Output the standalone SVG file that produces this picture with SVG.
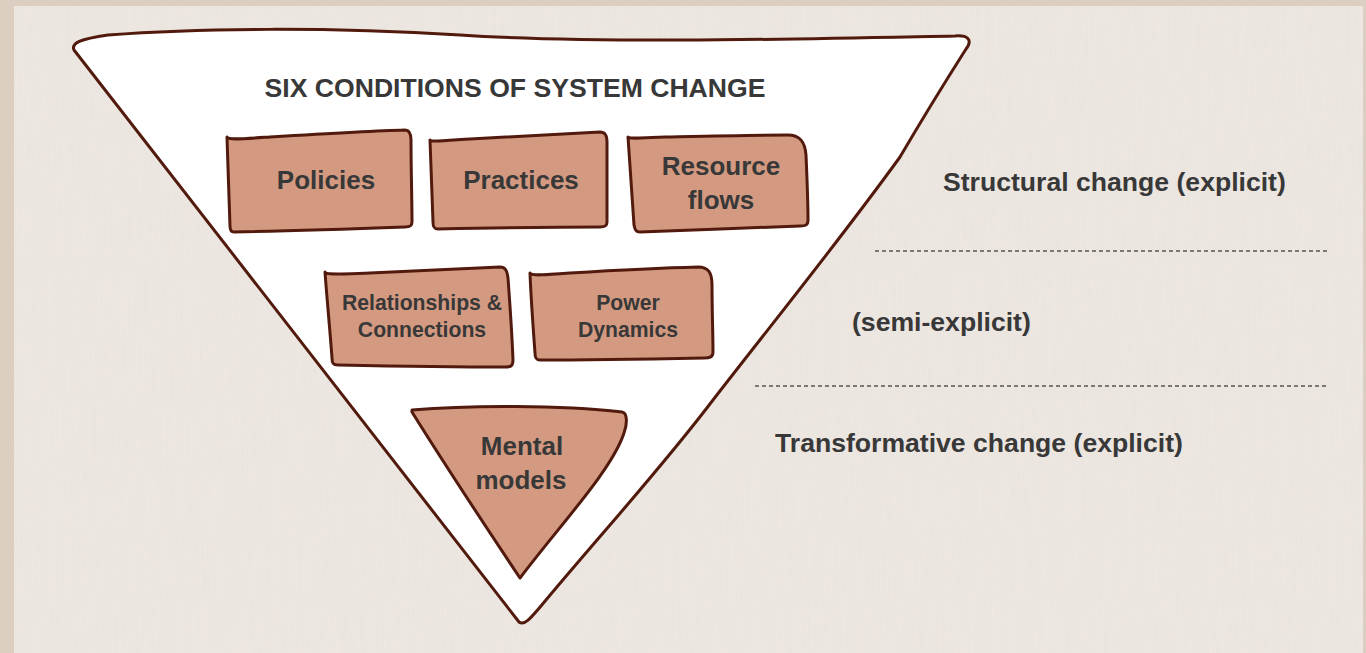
<svg xmlns="http://www.w3.org/2000/svg" width="1366" height="653" viewBox="0 0 1366 653">
  <style>
    .ink { stroke: #521a0d; stroke-width: 3; stroke-linejoin: round; stroke-linecap: round; }
    .card { fill: #d49a81; }
    .lbl { font-family: "Liberation Sans", Arial, sans-serif; font-weight: bold; fill: #383838; text-anchor: middle; }
    .side { font-family: "Liberation Sans", Arial, sans-serif; font-weight: bold; fill: #383838; font-size: 26.6px; }
    .rule { stroke: #555; stroke-width: 1.4; stroke-dasharray: 4 3; fill: none; }
  </style>
  <defs>
    <filter id="grain" x="0" y="0" width="100%" height="100%">
      <feTurbulence type="fractalNoise" baseFrequency="0.6 0.015" numOctaves="2" seed="4" result="n"/>
      <feColorMatrix in="n" type="matrix" values="0 0 0 0 0.55  0 0 0 0 0.48  0 0 0 0 0.42  0 0 0 0.18 0"/>
    </filter>
  </defs>

  <!-- paper background with darker frame -->
  <rect x="0" y="0" width="1366" height="653" fill="#dccfc2"/>
  <rect x="14" y="6" width="1349" height="647" fill="#eee8e3"/>
  <rect x="14" y="6" width="1349" height="647" filter="url(#grain)" opacity="0.5"/>

  <!-- funnel -->
  <g id="funnel">
    <path class="ink" fill="#ffffff" d="M 74,50 C 71,43 80,39 108,35 C 200,28 330,27 460,35 C 600,44 800,39 955,36 C 968,35 973,40 966,49 C 940,90 917,128 900,157 C 840,240 775,320 713,400 C 660,470 600,535 541,606 C 530,619 524,626 519,622 C 370,430 220,240 74,50 Z"/>
  </g>

  <!-- title -->
  <g id="title">
    <text class="lbl" x="515" y="97" font-size="26.6">SIX CONDITIONS OF SYSTEM CHANGE</text>
  </g>

  <!-- row 1 -->
  <g id="policies">
    <path class="ink card" d="M 227,137 C 228,140 240,139 270,137 C 320,134 370,131 405,130 C 410,130 411,134 411,140 C 411,170 412,200 412,222 C 412,226 410,227 405,227 C 350,229 290,231 234,232 C 231,232 230,230 230,226 C 229,200 228,168 227,137 Z"/>
    <text class="lbl" x="326" y="189" font-size="26">Policies</text>
  </g>
  <g id="practices">
    <path class="ink card" d="M 430,140 C 431,142 440,141 470,139 C 520,136 560,134 600,132 C 605,132 607,135 607,142 C 607,170 607,200 607,222 C 607,226 605,227 600,227 C 550,227 490,228 438,229 C 434,229 433,227 433,222 C 432,195 431,168 430,140 Z"/>
    <text class="lbl" x="521" y="189" font-size="26">Practices</text>
  </g>
  <g id="resource-flows">
    <path class="ink card" d="M 628,137 C 630,139 640,138 665,137 C 710,136 750,135 788,135 C 800,135 805,142 806,155 C 807,178 808,200 808,220 C 808,225 806,226 800,226 C 750,228 690,230 640,232 C 636,232 635,230 634,225 C 632,198 630,168 628,137 Z"/>
    <text class="lbl" x="721" y="175" font-size="26">Resource</text>
    <text class="lbl" x="721" y="209" font-size="26">flows</text>
  </g>

  <!-- row 2 -->
  <g id="relationships">
    <path class="ink card" d="M 325,272 C 326,275 340,274 370,273 C 420,271 460,269 500,267 C 505,267 507,270 508,278 C 510,305 512,335 513,360 C 513,366 511,367 505,367 C 450,367 390,366 338,365 C 333,365 332,363 332,358 C 330,330 327,300 325,272 Z"/>
    <text class="lbl" x="422" y="310" font-size="21.2">Relationships &amp;</text>
    <text class="lbl" x="422" y="337" font-size="21.2">Connections</text>
  </g>
  <g id="power-dynamics">
    <path class="ink card" d="M 530,273 C 531,276 545,275 570,273 C 620,270 660,268 698,267 C 708,267 712,272 712,285 C 712,310 713,335 713,352 C 713,357 710,358 704,358 C 650,359 590,360 540,360 C 536,360 535,358 535,353 C 533,325 531,300 530,273 Z"/>
    <text class="lbl" x="628" y="310" font-size="21.2">Power</text>
    <text class="lbl" x="628" y="337" font-size="21.2">Dynamics</text>
  </g>

  <!-- row 3 -->
  <g id="mental-models">
    <path class="ink card" d="M 412,410 C 470,405 560,405 622,412 C 628,413 627,425 624,433 C 612,470 560,525 520,578 C 484,524 445,465 412,412 Z"/>
    <text class="lbl" x="522" y="455" font-size="26">Mental</text>
    <text class="lbl" x="521" y="489" font-size="26">models</text>
  </g>

  <!-- level separators -->
  <g id="connectors">
    <line class="rule" x1="875" y1="251" x2="1328" y2="251"/>
    <line class="rule" x1="755" y1="386" x2="1328" y2="386"/>
  </g>

  <!-- level labels -->
  <g id="levels">
    <text class="side" x="943" y="191">Structural change (explicit)</text>
    <text class="side" x="852" y="331">(semi-explicit)</text>
    <text class="side" x="775" y="452">Transformative change (explicit)</text>
  </g>
</svg>
